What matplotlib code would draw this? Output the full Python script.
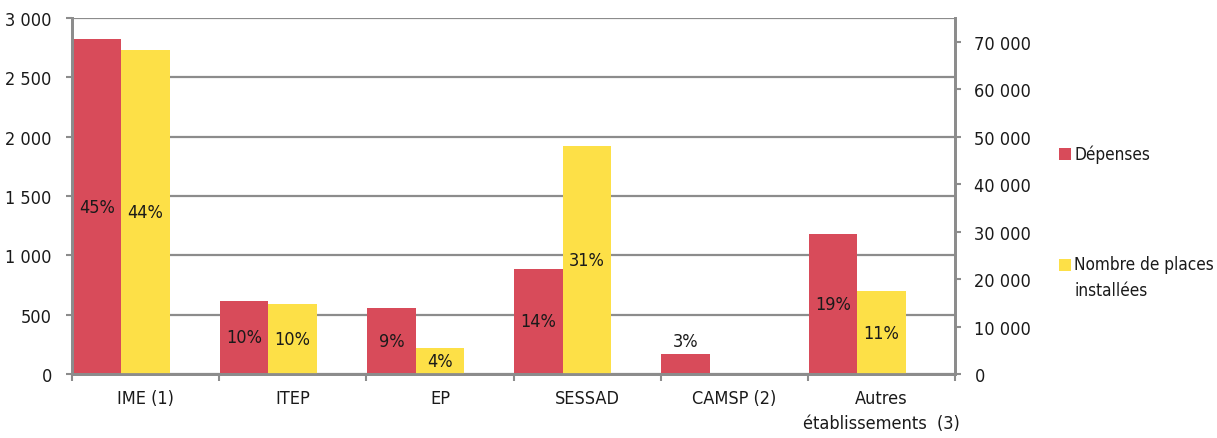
import numpy as np
import matplotlib
matplotlib.use("Agg")
import matplotlib.pyplot as plt
from matplotlib.patches import Rectangle
from matplotlib.ticker import FuncFormatter

plt.rcParams['font.family'] = ['Liberation Sans Narrow', 'DejaVu Sans']
plt.rcParams['font.stretch'] = 'condensed'

categories = ["IME (1)", "ITEP", "EP", "SESSAD", "CAMSP (2)", "Autres\nétablissements  (3)"]
depenses = [2820, 616, 552, 885, 166, 1180]
places = [68200, 14850, 5550, 48000, np.nan, 17480]
dep_pct = ["45%", "10%", "9%", "14%", "3%", "19%"]
pla_pct = ["44%", "10%", "4%", "31%", "", "11%"]
left_ticks = [0, 500, 1000, 1500, 2000, 2500, 3000]
right_ticks = [0, 10000, 20000, 30000, 40000, 50000, 60000, 70000]
legend_labels = ["Dépenses", "Nombre de places\ninstallées"]

RED = "#D84B5A"
YEL = "#FDE047"
GRID = "#8C8C8C"
TXT = "#1a1a1a"
FS = 13
LFS = 12.3

W, H = 1217, 439
fig = plt.figure(figsize=(W / 100, H / 100), dpi=100)
ax = fig.add_axes([72/W, 64/H, (955-72)/W, (375-19)/H])
ax2 = ax.twinx()

x = np.arange(len(categories))
w = 0.33
ax.bar(x + 0.005, depenses, width=w, align='edge', color=RED, zorder=2)
ax2.bar(x + 0.005 + w, np.nan_to_num(places), width=w, align='edge', color=YEL, zorder=2)

ax.set_xlim(0, len(categories))
ax.set_ylim(0, 3000)
ax2.set_ylim(0, 75000)

fmt = FuncFormatter(lambda v, p: f"{int(v):,}".replace(",", " "))
ax.set_yticks(left_ticks)
ax.yaxis.set_major_formatter(fmt)
ax2.set_yticks(right_ticks)
ax2.yaxis.set_major_formatter(fmt)

ax.set_axisbelow(True)
ax.yaxis.grid(True, color=GRID, linewidth=1.6, zorder=0)

ax.set_xticks(np.arange(len(categories) + 1))
ax.set_xticklabels([])
ax.set_xticks(x + 0.5, minor=True)
ax.set_xticklabels(categories, minor=True, fontsize=FS, color=TXT, linespacing=1.45)
ax.tick_params(axis='x', which='minor', length=0, pad=11)
ax.tick_params(axis='x', which='major', length=5, width=1.5, color=GRID, direction='out')
ax.tick_params(axis='y', length=4.5, width=1.5, color=GRID, labelsize=FS, labelcolor=TXT, pad=10)
ax2.tick_params(axis='y', length=4.5, width=1.5, color=GRID, labelsize=FS, labelcolor=TXT, pad=9.5)

for a in (ax, ax2):
    for s in a.spines.values():
        s.set_color(GRID)
        s.set_linewidth(2)
    a.spines['top'].set_visible(False)

for i in range(len(categories)):
    xr = x[i] + 0.005 + w / 2
    if depenses[i] < 300:
        ax.text(xr, depenses[i] + 40, dep_pct[i], ha='center', va='bottom', fontsize=FS, color=TXT)
    else:
        ax.text(xr, depenses[i] / 2, dep_pct[i], ha='center', va='center', fontsize=FS, color=TXT)
    if pla_pct[i]:
        xy = x[i] + 0.005 + 1.5 * w
        ax2.text(xy, places[i] / 2, pla_pct[i], ha='center', va='center', fontsize=FS, color=TXT)

for col, lab, yc in [(RED, legend_labels[0], 155), (YEL, legend_labels[1], 266)]:
    fig.patches.append(Rectangle((1059/W, 1 - (yc + 6)/H), 12/W, 12/H,
                                 transform=fig.transFigure, facecolor=col, edgecolor='none'))
    fig.text(1074/W, 1 - (yc - 10)/H, lab, ha='left', va='top', fontsize=LFS, color=TXT,
             linespacing=1.55)

fig.savefig("out.png", dpi=100)
